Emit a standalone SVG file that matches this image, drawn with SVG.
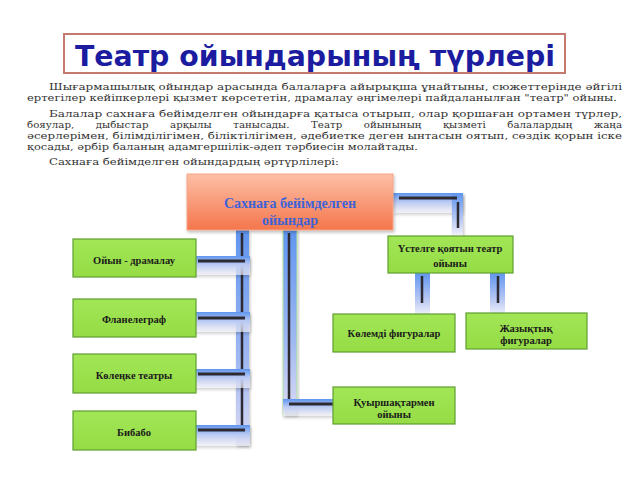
<svg xmlns="http://www.w3.org/2000/svg" width="640" height="480" viewBox="0 0 640 480">
<defs>
<linearGradient id="gMain" x1="0" y1="0" x2="0" y2="1">
<stop offset="0" stop-color="#fdbfa6"/><stop offset="1" stop-color="#f4764c"/>
</linearGradient>
<linearGradient id="gGreen" x1="0" y1="0" x2="0" y2="1">
<stop offset="0" stop-color="#a2e656"/><stop offset="1" stop-color="#95dc45"/>
</linearGradient>
<linearGradient id="gH" x1="0" y1="0" x2="0" y2="1">
<stop offset="0" stop-color="#5f95ee"/><stop offset="0.45" stop-color="#b9c9f3"/><stop offset="1" stop-color="#f6f4fc" stop-opacity="0.6"/>
</linearGradient>
<linearGradient id="gV" x1="0" y1="0" x2="0" y2="1">
<stop offset="0" stop-color="#5f95ee"/><stop offset="0.6" stop-color="#9fb8f2"/><stop offset="1" stop-color="#dcdaf4"/>
</linearGradient>
<linearGradient id="gVs" x1="0" y1="0" x2="0" y2="1">
<stop offset="0" stop-color="#5f95ee"/><stop offset="0.6" stop-color="#b6c7f3"/><stop offset="1" stop-color="#f4f2fb"/>
</linearGradient>
<filter id="sh" x="-20%" y="-20%" width="140%" height="150%">
<feDropShadow dx="1" dy="2" stdDeviation="1.5" flood-color="#000" flood-opacity="0.25"/>
</filter>
</defs>
<style>
.para{font-family:"DejaVu Serif","Liberation Serif",serif;font-size:9.5px;fill:#333}
.box{fill:url(#gGreen);stroke:#5f9e31;stroke-width:1.2}
.lbl{font-family:"Liberation Serif","Times New Roman",serif;font-weight:bold;font-size:10.5px;fill:#1a1a1a;text-anchor:middle}
.ln{stroke:#2e2a33;stroke-width:3;stroke-linecap:butt}
.lv{stroke:#2e2a33;stroke-width:2.5}
.bh{fill:url(#gH)}
.bv{fill:url(#gV)}
</style>
<rect width="640" height="480" fill="#fff"/>

<g id="title">
<rect x="64" y="34" width="501" height="39" fill="#fff" stroke="#c47a6e" stroke-width="2"/>
<text x="315" y="66" text-anchor="middle" textLength="480" lengthAdjust="spacingAndGlyphs" style="font-family:'DejaVu Sans','Liberation Sans',sans-serif;font-weight:bold;font-size:28px;fill:#1c1ca0">Театр ойындарының түрлері</text>
</g>

<g id="paragraph">
<text class="para" x="49" y="90" textLength="573" lengthAdjust="spacingAndGlyphs">Шығармашылық ойындар арасында балаларға айырықша ұнайтыны, сюжеттерінде әйгілі</text>
<text class="para" x="27" y="101" textLength="590" lengthAdjust="spacingAndGlyphs">ертегілер кейіпкерлері қызмет көрсететін, драмалау әңгімелері пайдаланылған "театр" ойыны.</text>
<text class="para" x="49" y="117" textLength="573" lengthAdjust="spacingAndGlyphs">Балалар сахнаға бейімделген ойындарға қатыса отырып, олар қоршаған ортамен түрлер,</text>
<text class="para" x="27" y="128" textLength="595" lengthAdjust="spacingAndGlyphs" word-spacing="17">бояулар, дыбыстар арқылы танысады. Театр ойынының қызметі балалардың жаңа</text>
<text class="para" x="27" y="139" textLength="595" lengthAdjust="spacingAndGlyphs">әсерлерімен, білімділігімен, біліктілігімен, әдебиетке деген ынтасын оятып, сөздік қорын іске</text>
<text class="para" x="27" y="150" textLength="391" lengthAdjust="spacingAndGlyphs">қосады, әрбір баланың адамгершілік-әдеп тәрбиесін молайтады.</text>
<text class="para" x="49" y="165" textLength="290" lengthAdjust="spacingAndGlyphs">Сахнаға бейімделген ойындардың әртүрлілері:</text>
</g>

<g id="connectors">
<rect class="bv" x="236" y="230" width="13" height="215" filter="url(#sh)"/>
<line class="lv" x1="242" y1="233" x2="242" y2="430"/>
<rect class="bv" x="283" y="230" width="14" height="184" stroke="#b4e3a0" stroke-width="1" filter="url(#sh)"/>
<line class="lv" x1="289" y1="233" x2="289" y2="404"/>
<rect class="bh" x="283" y="399" width="55" height="17" filter="url(#sh)"/>
<line class="ln" x1="289" y1="404" x2="333" y2="404"/>
<rect class="bh" x="193" y="256" width="57" height="19" filter="url(#sh)"/>
<line class="ln" x1="198" y1="261" x2="245" y2="261"/>
<rect class="bh" x="193" y="312" width="57" height="20" filter="url(#sh)"/>
<line class="ln" x1="198" y1="318" x2="245" y2="318"/>
<rect class="bh" x="193" y="369" width="57" height="19" filter="url(#sh)"/>
<line class="ln" x1="198" y1="374" x2="245" y2="374"/>
<rect class="bh" x="193" y="425" width="57" height="21" filter="url(#sh)"/>
<line class="ln" x1="198" y1="430" x2="245" y2="430"/>
<rect class="bh" x="393" y="193" width="70" height="20" filter="url(#sh)"/>
<rect x="452" y="193" width="11" height="43" fill="url(#gVs)" filter="url(#sh)"/>
<line class="ln" x1="399" y1="198" x2="457" y2="198"/>
<line class="lv" x1="458" y1="202" x2="458" y2="228"/>
<rect x="415" y="273" width="15" height="43" fill="url(#gVs)"/>
<line class="lv" x1="422" y1="276" x2="422" y2="303"/>
<rect x="490" y="273" width="15" height="43" fill="url(#gVs)"/>
<line class="lv" x1="498" y1="276" x2="498" y2="303"/>
</g>

<g id="main">
<rect x="187" y="174" width="206" height="56" fill="url(#gMain)" stroke="#f7a488" stroke-width="1" filter="url(#sh)"/>
<text x="290" y="208" text-anchor="middle" style="font-family:'Liberation Serif',serif;font-weight:bold;font-size:14px;fill:#3d63d6">Сахнаға бейімделген</text>
<text x="290" y="225" text-anchor="middle" style="font-family:'Liberation Serif',serif;font-weight:bold;font-size:14px;fill:#3d63d6">ойындар</text>
</g>

<g id="n-oiyn">
<rect class="box" x="73" y="239" width="123" height="38"/>
<text class="lbl" x="134" y="264">Ойын - драмалау</text>
</g>
<g id="n-flanel">
<rect class="box" x="73" y="299" width="123" height="38"/>
<text class="lbl" x="134" y="323">Фланелеграф</text>
</g>
<g id="n-kolenke">
<rect class="box" x="73" y="354" width="123" height="39"/>
<text class="lbl" x="134" y="379">Көлеңке театры</text>
</g>
<g id="n-bibabo">
<rect class="box" x="73" y="411" width="123" height="39"/>
<text class="lbl" x="134" y="436">Бибабо</text>
</g>
<g id="n-ustel">
<rect class="box" x="388" y="236" width="125" height="37"/>
<text class="lbl" x="450" y="252">Үстелге қоятын театр</text>
<text class="lbl" x="450" y="267">ойыны</text>
</g>
<g id="n-kolemdi">
<rect class="box" x="333" y="314" width="122" height="38"/>
<text class="lbl" x="394" y="337">Көлемді фигуралар</text>
</g>
<g id="n-zhazyk">
<rect class="box" x="466" y="313" width="121" height="36"/>
<text class="lbl" x="526" y="332">Жазықтық</text>
<text class="lbl" x="526" y="344">фигуралар</text>
</g>
<g id="n-kuyr">
<rect class="box" x="333" y="387" width="122" height="37"/>
<text class="lbl" x="394" y="406">Қуыршақтармен</text>
<text class="lbl" x="394" y="418">ойыны</text>
</g>
</svg>
